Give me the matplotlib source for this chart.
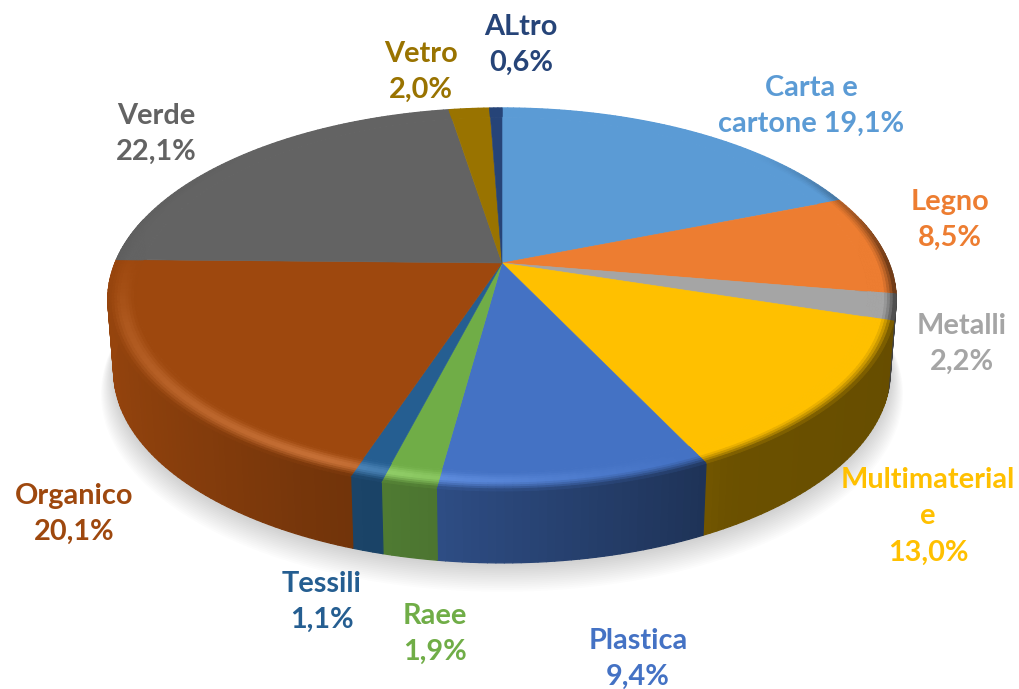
import numpy as np
import matplotlib
matplotlib.use('Agg')
import matplotlib.pyplot as plt
from matplotlib.collections import PolyCollection
from matplotlib.colors import to_rgb
from matplotlib.patches import Polygon

labels = ['Carta e\ncartone', 'Legno', 'Metalli', 'Multimaterial\ne', 'Plastica', 'Raee',
          'Tessili', 'Organico', 'Verde', 'Vetro', 'ALtro']
values = [19.1, 8.5, 2.2, 13.0, 9.4, 1.9, 1.1, 20.1, 22.1, 2.0, 0.6]
colors = ['#5B9BD5', '#ED7D31', '#A5A5A5', '#FFC000', '#4472C4', '#70AD47',
          '#255E91', '#9E480E', '#636363', '#997300', '#264478']

# centre of each label block, in pixels
label_x = [811, 950, 962, 928, 638, 435, 322, 74, 156, 421, 521]
label_y = [106, 220, 344, 516, 659, 634, 602, 514, 134, 72, 45]

cx, cy = 502, 263
a, b, k = 387, 184.6, 0.19   # perspective of the disc
depth = 72
r_bevel = 0.93


def project(r, theta):
    u = r * np.sin(theta)
    v = r * np.cos(theta)
    w = 1 + k * v
    return cx + a * u / w, cy - b * v / w


def lower(x, y):
    return cx + (x - cx) * 0.985, y + depth


def wall_factor(u):
    return np.interp(u, [-1, -0.4, -0.15, 0.5, 1], [0.95, 0.74, 0.68, 0.42, 0.40])


def highlight(u, v):
    h = np.interp(u, [-1, -0.8, -0.4, -0.1, 0.2, 0.4, 1], [0.05, 0.1, 0.16, 0.09, 0.03, 0, 0])
    return h * np.clip(-3 * v + 0.1, 0, 1)


fig = plt.figure(figsize=(10.19, 6.89), dpi=100)
ax = fig.add_axes([0, 0, 1, 1])
ax.set_xlim(0, 1019)
ax.set_ylim(689, 0)
ax.axis('off')

ends = np.cumsum(values) / np.sum(values) * 2 * np.pi
starts = np.concatenate([[0], ends[:-1]])

# soft shadow under the disc
ring = np.linspace(0, 2 * np.pi, 240)
rx, ry = lower(*project(1, ring))
for i in range(16):
    grow = 1 + i * 0.0022
    ax.add_patch(Polygon(np.c_[cx + (rx - cx) * grow, cy + (ry - cy) * grow + 1 + i * 1.2],
                         closed=True, fc='black', ec='none', alpha=0.011, zorder=1))

for start, end, color in zip(starts, ends, colors):
    base = np.array(to_rgb(color))
    n = max(3, int(np.degrees(end - start)))
    th = np.linspace(start, end, n + 1)

    # side wall
    quads, cols = [], []
    for t0, t1 in zip(th[:-1], th[1:]):
        if np.cos((t0 + t1) / 2) > 0.25:
            continue
        x0, y0 = project(1, t0)
        x1, y1 = project(1, t1)
        x2, y2 = lower(x1, y1)
        x3, y3 = lower(x0, y0)
        quads.append([(x0, y0), (x1, y1), (x2, y2), (x3, y3)])
        cols.append(np.clip(base * wall_factor(np.sin((t0 + t1) / 2)), 0, 1))
    if quads:
        ax.add_collection(PolyCollection(quads, facecolors=cols, edgecolors=cols, linewidths=0.9, zorder=2))

    # flat part of the top
    x, y = project(r_bevel, th)
    ax.add_patch(Polygon(np.vstack([[cx, cy], np.c_[x, y]]), closed=True, fc=color, ec=color, lw=0.4, zorder=3))

    # rounded rim of the top
    quads, cols = [], []
    bands = np.linspace(r_bevel, 1, 11)
    for r0, r1 in zip(bands[:-1], bands[1:]):
        t = ((r0 + r1) / 2 - r_bevel) / (1 - r_bevel)
        for t0, t1 in zip(th[:-1], th[1:]):
            tm = (t0 + t1) / 2
            u, v = np.sin(tm), np.cos(tm)
            x0, y0 = project(r0, t0)
            x1, y1 = project(r0, t1)
            x2, y2 = project(r1, t1)
            x3, y3 = project(r1, t0)
            quads.append([(x0, y0), (x1, y1), (x2, y2), (x3, y3)])
            strength = 1.0 if v < 0 else np.clip(1 - 1.5 * v, 0, 1)
            end_col = base * wall_factor(u)
            blend = strength * np.clip((t - 0.55) / 0.45, 0, 1) ** 1.3
            c = base * (1 - blend) + end_col * blend + highlight(u, v) * np.sin(np.pi * t) ** 2
            cols.append(np.clip(c, 0, 1))
    ax.add_collection(PolyCollection(quads, facecolors=cols, edgecolors=cols, linewidths=0.8, zorder=4))

# data labels
for name, value, color, lx, ly in zip(labels, values, colors, label_x, label_y):
    pct = f'{value:.1f}'.replace('.', ',') + '%'
    if name == 'Carta e\ncartone':
        text = name + ' ' + pct
    else:
        text = name + '\n' + pct
    ax.text(lx, ly, text, color=color, family=['Lato', 'DejaVu Sans'], fontweight='bold', fontsize=20.8,
            ha='center', va='center', linespacing=1.5, zorder=6)

fig.savefig('out.png', dpi=100)
